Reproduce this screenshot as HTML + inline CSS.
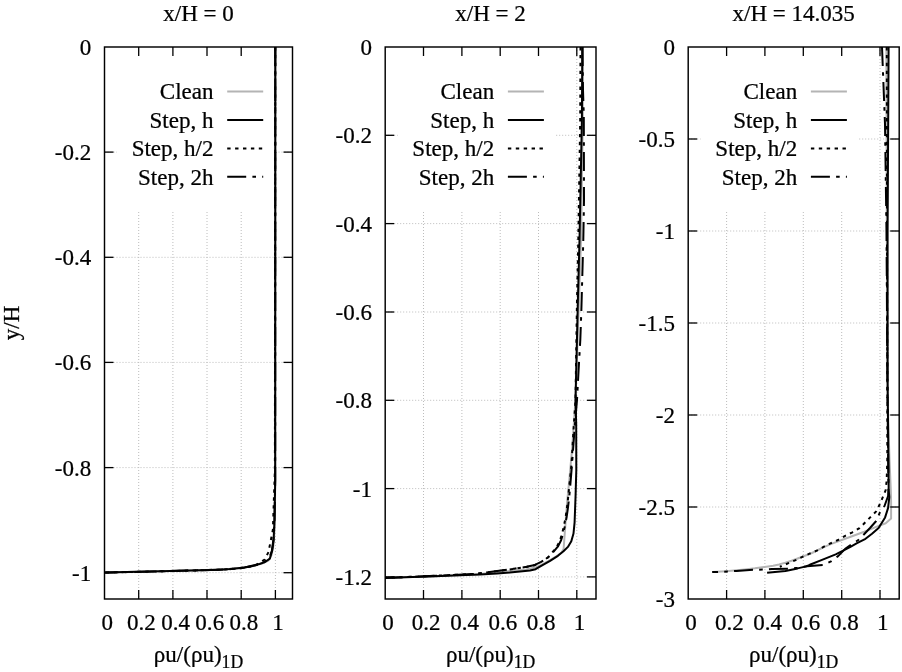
<!DOCTYPE html><html><head><meta charset="utf-8"><style>html,body{margin:0;padding:0;background:#fff;}svg{display:block;}text{font-family:"Liberation Serif",serif;fill:#000;stroke:#000;stroke-width:0.25px;}svg{will-change:transform;}</style></head><body>
<svg width="902" height="672" viewBox="0 0 902 672">
<rect width="902" height="672" fill="#fff"/>
<line x1="138.7" y1="47.0" x2="138.7" y2="599.0" stroke="#bcbcbc" stroke-width="1" stroke-dasharray="1 2"/>
<line x1="172.9" y1="47.0" x2="172.9" y2="599.0" stroke="#bcbcbc" stroke-width="1" stroke-dasharray="1 2"/>
<line x1="207.0" y1="47.0" x2="207.0" y2="599.0" stroke="#bcbcbc" stroke-width="1" stroke-dasharray="1 2"/>
<line x1="241.2" y1="47.0" x2="241.2" y2="599.0" stroke="#bcbcbc" stroke-width="1" stroke-dasharray="1 2"/>
<line x1="275.4" y1="47.0" x2="275.4" y2="599.0" stroke="#bcbcbc" stroke-width="1" stroke-dasharray="1 2"/>
<line x1="104.5" y1="152.1" x2="292.5" y2="152.1" stroke="#bcbcbc" stroke-width="1" stroke-dasharray="1 2"/>
<line x1="104.5" y1="257.3" x2="292.5" y2="257.3" stroke="#bcbcbc" stroke-width="1" stroke-dasharray="1 2"/>
<line x1="104.5" y1="362.4" x2="292.5" y2="362.4" stroke="#bcbcbc" stroke-width="1" stroke-dasharray="1 2"/>
<line x1="104.5" y1="467.6" x2="292.5" y2="467.6" stroke="#bcbcbc" stroke-width="1" stroke-dasharray="1 2"/>
<line x1="104.5" y1="572.7" x2="292.5" y2="572.7" stroke="#bcbcbc" stroke-width="1" stroke-dasharray="1 2"/>
<rect x="117.0" y="47.0" width="158.0" height="164.8" fill="#fff"/>
<polyline points="275.3,47.0 275.2,480.0 274.8,527.0 273.5,545.0 271.5,555.0 268.5,560.5 262.0,563.5 252.0,566.3 240.0,568.2 225.0,569.3 200.0,570.2 160.0,571.3 104.5,572.6" fill="none" stroke="#b4b4b4" stroke-width="2" stroke-linejoin="round"/>
<polyline points="275.3,47.0 275.2,480.0 274.5,520.0 273.4,540.0 271.8,551.0 269.0,558.5 263.0,562.8 255.0,565.5 244.6,567.6 229.8,569.2 200.0,570.3 160.0,571.3 104.5,572.6" fill="none" stroke="#000" stroke-width="2" stroke-dasharray="19 6.2 3.6 6.2" stroke-dashoffset="0.00" stroke-linejoin="round"/>
<polyline points="275.3,47.0 274.9,470.0 273.7,504.5 272.9,529.8 271.4,537.2 268.5,552.1 264.7,559.5 258.0,564.0 252.0,566.5 240.0,568.3 225.0,569.4 200.0,570.3 160.0,571.3 104.5,572.6" fill="none" stroke="#000" stroke-width="2" stroke-dasharray="3.4 4.5" stroke-linejoin="round"/>
<polyline points="275.3,47.0 275.2,480.0 274.5,520.0 273.6,540.0 272.3,550.0 269.9,558.6 265.0,562.0 259.5,564.0 244.6,567.4 229.8,569.1 219.7,569.8 200.0,570.3 160.0,571.3 104.5,572.6" fill="none" stroke="#000" stroke-width="2" stroke-linejoin="round"/>
<line x1="138.7" y1="599.0" x2="138.7" y2="590.0" stroke="#000" stroke-width="1.3"/>
<line x1="138.7" y1="47.0" x2="138.7" y2="56.0" stroke="#000" stroke-width="1.3"/>
<line x1="172.9" y1="599.0" x2="172.9" y2="590.0" stroke="#000" stroke-width="1.3"/>
<line x1="172.9" y1="47.0" x2="172.9" y2="56.0" stroke="#000" stroke-width="1.3"/>
<line x1="207.0" y1="599.0" x2="207.0" y2="590.0" stroke="#000" stroke-width="1.3"/>
<line x1="207.0" y1="47.0" x2="207.0" y2="56.0" stroke="#000" stroke-width="1.3"/>
<line x1="241.2" y1="599.0" x2="241.2" y2="590.0" stroke="#000" stroke-width="1.3"/>
<line x1="241.2" y1="47.0" x2="241.2" y2="56.0" stroke="#000" stroke-width="1.3"/>
<line x1="275.4" y1="599.0" x2="275.4" y2="590.0" stroke="#000" stroke-width="1.3"/>
<line x1="275.4" y1="47.0" x2="275.4" y2="56.0" stroke="#000" stroke-width="1.3"/>
<line x1="104.5" y1="152.1" x2="113.5" y2="152.1" stroke="#000" stroke-width="1.3"/>
<line x1="292.5" y1="152.1" x2="283.5" y2="152.1" stroke="#000" stroke-width="1.3"/>
<line x1="104.5" y1="257.3" x2="113.5" y2="257.3" stroke="#000" stroke-width="1.3"/>
<line x1="292.5" y1="257.3" x2="283.5" y2="257.3" stroke="#000" stroke-width="1.3"/>
<line x1="104.5" y1="362.4" x2="113.5" y2="362.4" stroke="#000" stroke-width="1.3"/>
<line x1="292.5" y1="362.4" x2="283.5" y2="362.4" stroke="#000" stroke-width="1.3"/>
<line x1="104.5" y1="467.6" x2="113.5" y2="467.6" stroke="#000" stroke-width="1.3"/>
<line x1="292.5" y1="467.6" x2="283.5" y2="467.6" stroke="#000" stroke-width="1.3"/>
<line x1="104.5" y1="572.7" x2="113.5" y2="572.7" stroke="#000" stroke-width="1.3"/>
<line x1="292.5" y1="572.7" x2="283.5" y2="572.7" stroke="#000" stroke-width="1.3"/>
<rect x="104.5" y="47.0" width="188.0" height="552.0" fill="none" stroke="#000" stroke-width="1.45"/>
<text transform="translate(91.30,55.00) scale(0.98,1)" font-size="23.5" text-anchor="end" >0</text>
<text transform="translate(91.30,160.14) scale(0.98,1)" font-size="23.5" text-anchor="end" >-0.2</text>
<text transform="translate(91.30,265.29) scale(0.98,1)" font-size="23.5" text-anchor="end" >-0.4</text>
<text transform="translate(91.30,370.43) scale(0.98,1)" font-size="23.5" text-anchor="end" >-0.6</text>
<text transform="translate(91.30,475.57) scale(0.98,1)" font-size="23.5" text-anchor="end" >-0.8</text>
<text transform="translate(91.30,580.71) scale(0.98,1)" font-size="23.5" text-anchor="end" >-1</text>
<text transform="translate(107.20,629.50) scale(0.98,1)" font-size="23.5" text-anchor="middle" >0</text>
<text transform="translate(141.38,629.50) scale(0.98,1)" font-size="23.5" text-anchor="middle" >0.2</text>
<text transform="translate(175.56,629.50) scale(0.98,1)" font-size="23.5" text-anchor="middle" >0.4</text>
<text transform="translate(209.75,629.50) scale(0.98,1)" font-size="23.5" text-anchor="middle" >0.6</text>
<text transform="translate(243.93,629.50) scale(0.98,1)" font-size="23.5" text-anchor="middle" >0.8</text>
<text transform="translate(278.11,629.50) scale(0.98,1)" font-size="23.5" text-anchor="middle" >1</text>
<text transform="translate(198.50,21.30) scale(0.98,1)" font-size="23.5" text-anchor="middle" >x/H = 0</text>
<text transform="translate(198.50,661.50) scale(0.98,1)" font-size="23.5" text-anchor="middle" >ρu/(ρu)<tspan font-size="18" dy="6">1D</tspan></text>
<text transform="translate(213.50,99.30) scale(0.98,1)" font-size="23.5" text-anchor="end" >Clean</text>
<line x1="227.2" y1="91.5" x2="263.2" y2="91.5" stroke="#b4b4b4" stroke-width="2"/>
<text transform="translate(213.50,127.80) scale(0.98,1)" font-size="23.5" text-anchor="end" >Step, h</text>
<line x1="227.2" y1="120.0" x2="263.2" y2="120.0" stroke="#000" stroke-width="2"/>
<text transform="translate(213.50,156.20) scale(0.98,1)" font-size="23.5" text-anchor="end" >Step, h/2</text>
<line x1="227.2" y1="148.4" x2="263.2" y2="148.4" stroke="#000" stroke-width="2" stroke-dasharray="3.4 4.5"/>
<text transform="translate(213.50,184.60) scale(0.98,1)" font-size="23.5" text-anchor="end" >Step, 2h</text>
<line x1="227.2" y1="176.8" x2="263.2" y2="176.8" stroke="#000" stroke-width="2" stroke-dasharray="19 6.2 3.6 6.2"/>
<line x1="423.5" y1="47.0" x2="423.5" y2="599.0" stroke="#bcbcbc" stroke-width="1" stroke-dasharray="1 2"/>
<line x1="461.9" y1="47.0" x2="461.9" y2="599.0" stroke="#bcbcbc" stroke-width="1" stroke-dasharray="1 2"/>
<line x1="500.2" y1="47.0" x2="500.2" y2="599.0" stroke="#bcbcbc" stroke-width="1" stroke-dasharray="1 2"/>
<line x1="538.5" y1="47.0" x2="538.5" y2="599.0" stroke="#bcbcbc" stroke-width="1" stroke-dasharray="1 2"/>
<line x1="576.8" y1="47.0" x2="576.8" y2="599.0" stroke="#bcbcbc" stroke-width="1" stroke-dasharray="1 2"/>
<line x1="385.2" y1="135.3" x2="596.0" y2="135.3" stroke="#bcbcbc" stroke-width="1" stroke-dasharray="1 2"/>
<line x1="385.2" y1="223.6" x2="596.0" y2="223.6" stroke="#bcbcbc" stroke-width="1" stroke-dasharray="1 2"/>
<line x1="385.2" y1="312.0" x2="596.0" y2="312.0" stroke="#bcbcbc" stroke-width="1" stroke-dasharray="1 2"/>
<line x1="385.2" y1="400.3" x2="596.0" y2="400.3" stroke="#bcbcbc" stroke-width="1" stroke-dasharray="1 2"/>
<line x1="385.2" y1="488.6" x2="596.0" y2="488.6" stroke="#bcbcbc" stroke-width="1" stroke-dasharray="1 2"/>
<line x1="385.2" y1="576.9" x2="596.0" y2="576.9" stroke="#bcbcbc" stroke-width="1" stroke-dasharray="1 2"/>
<rect x="397.7" y="47.0" width="158.0" height="164.8" fill="#fff"/>
<polyline points="583.0,47.0 582.8,120.0 581.0,240.0 579.0,300.0 575.5,400.0 572.0,450.0 569.3,480.0 567.3,500.0 566.5,510.0 565.0,530.0 563.6,549.0 561.5,552.5 557.9,555.4 550.1,560.2 541.2,564.8 535.0,567.6 526.0,569.6 514.0,570.6 497.0,572.3 477.6,574.2 453.2,575.4 428.8,576.4 404.4,577.3 385.2,577.9" fill="none" stroke="#b4b4b4" stroke-width="2" stroke-linejoin="round"/>
<polyline points="582.4,47.0 583.0,90.0 583.8,115.0 584.0,200.0 583.3,240.0 581.3,312.0 580.3,340.0 578.6,370.0 577.0,400.0 574.5,430.0 572.0,464.4 570.0,488.8 568.9,500.0 567.8,508.9 566.7,516.7 565.0,525.7 563.4,532.4 561.1,540.2 557.8,546.7 553.2,552.1 548.6,557.0 541.8,561.5 534.9,564.9 526.5,566.8 514.1,568.7 497.1,571.1 477.6,573.6 453.2,574.9 428.8,576.1 404.4,577.1 385.2,577.8" fill="none" stroke="#000" stroke-width="2" stroke-dasharray="19 6.2 3.6 6.2" stroke-dashoffset="0.00" stroke-linejoin="round"/>
<polyline points="580.5,47.0 580.2,120.0 578.3,240.0 577.0,300.0 575.5,400.0 573.5,430.0 571.5,464.4 569.0,488.8 567.9,500.0 566.8,508.9 565.7,516.7 564.0,525.7 562.4,532.4 560.1,540.2 556.8,546.9 552.3,552.5 547.9,557.5 541.2,561.9 534.5,565.3 526.3,566.9 514.1,568.8 497.1,571.2 477.6,573.7 453.2,574.9 428.8,576.1 404.4,577.1 385.2,577.8" fill="none" stroke="#000" stroke-width="2" stroke-dasharray="3.4 4.5" stroke-linejoin="round"/>
<polyline points="582.3,47.0 581.9,120.0 579.5,240.0 577.9,300.0 575.5,400.0 576.2,424.0 576.3,470.0 575.6,495.0 574.6,522.3 573.5,533.5 571.3,541.3 567.9,546.9 563.5,551.3 557.9,555.8 550.1,560.8 541.2,565.8 535.6,569.2 530.0,570.5 520.0,571.5 509.8,572.6 497.0,573.6 480.0,574.5 453.0,575.6 428.8,576.5 404.4,577.3 385.2,577.9" fill="none" stroke="#000" stroke-width="2" stroke-linejoin="round"/>
<line x1="423.5" y1="599.0" x2="423.5" y2="590.0" stroke="#000" stroke-width="1.3"/>
<line x1="423.5" y1="47.0" x2="423.5" y2="56.0" stroke="#000" stroke-width="1.3"/>
<line x1="461.9" y1="599.0" x2="461.9" y2="590.0" stroke="#000" stroke-width="1.3"/>
<line x1="461.9" y1="47.0" x2="461.9" y2="56.0" stroke="#000" stroke-width="1.3"/>
<line x1="500.2" y1="599.0" x2="500.2" y2="590.0" stroke="#000" stroke-width="1.3"/>
<line x1="500.2" y1="47.0" x2="500.2" y2="56.0" stroke="#000" stroke-width="1.3"/>
<line x1="538.5" y1="599.0" x2="538.5" y2="590.0" stroke="#000" stroke-width="1.3"/>
<line x1="538.5" y1="47.0" x2="538.5" y2="56.0" stroke="#000" stroke-width="1.3"/>
<line x1="576.8" y1="599.0" x2="576.8" y2="590.0" stroke="#000" stroke-width="1.3"/>
<line x1="576.8" y1="47.0" x2="576.8" y2="56.0" stroke="#000" stroke-width="1.3"/>
<line x1="385.2" y1="135.3" x2="394.2" y2="135.3" stroke="#000" stroke-width="1.3"/>
<line x1="596.0" y1="135.3" x2="587.0" y2="135.3" stroke="#000" stroke-width="1.3"/>
<line x1="385.2" y1="223.6" x2="394.2" y2="223.6" stroke="#000" stroke-width="1.3"/>
<line x1="596.0" y1="223.6" x2="587.0" y2="223.6" stroke="#000" stroke-width="1.3"/>
<line x1="385.2" y1="312.0" x2="394.2" y2="312.0" stroke="#000" stroke-width="1.3"/>
<line x1="596.0" y1="312.0" x2="587.0" y2="312.0" stroke="#000" stroke-width="1.3"/>
<line x1="385.2" y1="400.3" x2="394.2" y2="400.3" stroke="#000" stroke-width="1.3"/>
<line x1="596.0" y1="400.3" x2="587.0" y2="400.3" stroke="#000" stroke-width="1.3"/>
<line x1="385.2" y1="488.6" x2="394.2" y2="488.6" stroke="#000" stroke-width="1.3"/>
<line x1="596.0" y1="488.6" x2="587.0" y2="488.6" stroke="#000" stroke-width="1.3"/>
<line x1="385.2" y1="576.9" x2="394.2" y2="576.9" stroke="#000" stroke-width="1.3"/>
<line x1="596.0" y1="576.9" x2="587.0" y2="576.9" stroke="#000" stroke-width="1.3"/>
<rect x="385.2" y="47.0" width="210.8" height="552.0" fill="none" stroke="#000" stroke-width="1.45"/>
<text transform="translate(372.00,55.00) scale(0.98,1)" font-size="23.5" text-anchor="end" >0</text>
<text transform="translate(372.00,143.32) scale(0.98,1)" font-size="23.5" text-anchor="end" >-0.2</text>
<text transform="translate(372.00,231.64) scale(0.98,1)" font-size="23.5" text-anchor="end" >-0.4</text>
<text transform="translate(372.00,319.96) scale(0.98,1)" font-size="23.5" text-anchor="end" >-0.6</text>
<text transform="translate(372.00,408.28) scale(0.98,1)" font-size="23.5" text-anchor="end" >-0.8</text>
<text transform="translate(372.00,496.60) scale(0.98,1)" font-size="23.5" text-anchor="end" >-1</text>
<text transform="translate(372.00,584.92) scale(0.98,1)" font-size="23.5" text-anchor="end" >-1.2</text>
<text transform="translate(387.90,629.50) scale(0.98,1)" font-size="23.5" text-anchor="middle" >0</text>
<text transform="translate(426.23,629.50) scale(0.98,1)" font-size="23.5" text-anchor="middle" >0.2</text>
<text transform="translate(464.55,629.50) scale(0.98,1)" font-size="23.5" text-anchor="middle" >0.4</text>
<text transform="translate(502.88,629.50) scale(0.98,1)" font-size="23.5" text-anchor="middle" >0.6</text>
<text transform="translate(541.21,629.50) scale(0.98,1)" font-size="23.5" text-anchor="middle" >0.8</text>
<text transform="translate(579.54,629.50) scale(0.98,1)" font-size="23.5" text-anchor="middle" >1</text>
<text transform="translate(490.60,21.30) scale(0.98,1)" font-size="23.5" text-anchor="middle" >x/H = 2</text>
<text transform="translate(490.60,661.50) scale(0.98,1)" font-size="23.5" text-anchor="middle" >ρu/(ρu)<tspan font-size="18" dy="6">1D</tspan></text>
<text transform="translate(494.20,99.30) scale(0.98,1)" font-size="23.5" text-anchor="end" >Clean</text>
<line x1="507.9" y1="91.5" x2="543.9" y2="91.5" stroke="#b4b4b4" stroke-width="2"/>
<text transform="translate(494.20,127.80) scale(0.98,1)" font-size="23.5" text-anchor="end" >Step, h</text>
<line x1="507.9" y1="120.0" x2="543.9" y2="120.0" stroke="#000" stroke-width="2"/>
<text transform="translate(494.20,156.20) scale(0.98,1)" font-size="23.5" text-anchor="end" >Step, h/2</text>
<line x1="507.9" y1="148.4" x2="543.9" y2="148.4" stroke="#000" stroke-width="2" stroke-dasharray="3.4 4.5"/>
<text transform="translate(494.20,184.60) scale(0.98,1)" font-size="23.5" text-anchor="end" >Step, 2h</text>
<line x1="507.9" y1="176.8" x2="543.9" y2="176.8" stroke="#000" stroke-width="2" stroke-dasharray="19 6.2 3.6 6.2"/>
<line x1="726.6" y1="47.0" x2="726.6" y2="599.0" stroke="#bcbcbc" stroke-width="1" stroke-dasharray="1 2"/>
<line x1="764.9" y1="47.0" x2="764.9" y2="599.0" stroke="#bcbcbc" stroke-width="1" stroke-dasharray="1 2"/>
<line x1="803.3" y1="47.0" x2="803.3" y2="599.0" stroke="#bcbcbc" stroke-width="1" stroke-dasharray="1 2"/>
<line x1="841.7" y1="47.0" x2="841.7" y2="599.0" stroke="#bcbcbc" stroke-width="1" stroke-dasharray="1 2"/>
<line x1="880.0" y1="47.0" x2="880.0" y2="599.0" stroke="#bcbcbc" stroke-width="1" stroke-dasharray="1 2"/>
<line x1="688.2" y1="139.0" x2="899.2" y2="139.0" stroke="#bcbcbc" stroke-width="1" stroke-dasharray="1 2"/>
<line x1="688.2" y1="231.0" x2="899.2" y2="231.0" stroke="#bcbcbc" stroke-width="1" stroke-dasharray="1 2"/>
<line x1="688.2" y1="323.0" x2="899.2" y2="323.0" stroke="#bcbcbc" stroke-width="1" stroke-dasharray="1 2"/>
<line x1="688.2" y1="415.0" x2="899.2" y2="415.0" stroke="#bcbcbc" stroke-width="1" stroke-dasharray="1 2"/>
<line x1="688.2" y1="507.0" x2="899.2" y2="507.0" stroke="#bcbcbc" stroke-width="1" stroke-dasharray="1 2"/>
<rect x="700.7" y="47.0" width="158.0" height="164.8" fill="#fff"/>
<polyline points="886.4,47.0 886.8,231.0 887.6,400.0 889.5,460.0 890.8,490.0 891.1,501.9 891.1,518.6 885.7,523.3 876.2,526.9 864.3,531.7 852.0,536.3 841.7,540.0 832.0,543.6 823.8,547.1 811.9,553.0 803.7,556.2 797.0,558.8 791.5,560.8 785.4,562.8 779.0,564.4 773.2,565.7 764.6,567.0 754.9,568.3 745.0,569.4 736.6,570.3 726.0,571.2 712.2,572.1" fill="none" stroke="#b4b4b4" stroke-width="2" stroke-linejoin="round"/>
<polyline points="882.0,47.0 885.0,124.0 886.5,231.0 887.5,400.0" fill="none" stroke="#000" stroke-width="2" stroke-dasharray="19 6.2 3.6 6.2" stroke-dashoffset="0.00" stroke-linejoin="round"/>
<polyline points="887.5,400.0 888.3,470.0 888.5,487.0 888.1,496.0 884.5,506.0 879.8,512.6 876.2,521.0 870.0,528.0 864.3,534.0 858.3,540.0 851.0,544.8 845.2,548.9 838.1,556.1 831.0,561.4 823.8,564.8 807.1,566.2 797.6,567.8 789.0,568.8 772.0,568.9 762.8,569.6 754.9,569.7 736.6,570.9 728.0,571.5 712.2,572.1" fill="none" stroke="#000" stroke-width="2" stroke-dasharray="19 6.2 3.6 6.2" stroke-dashoffset="16.12" stroke-linejoin="round"/>
<polyline points="886.8,47.0 887.0,231.0 887.4,400.0 887.3,460.0 886.7,480.0 885.7,490.0 883.3,496.0 879.8,504.3 876.2,511.4 870.2,517.4 859.5,528.1 852.4,532.3 845.2,535.8 838.1,540.0 827.4,544.8 816.7,550.7 809.5,553.7 803.7,556.2 796.3,559.9 789.0,562.9 781.7,566.0 779.8,566.7" fill="none" stroke="#000" stroke-width="2" stroke-dasharray="3.4 4.5" stroke-linejoin="round"/>
<polyline points="888.6,47.0 887.6,231.0 887.6,380.0 888.3,450.0 888.7,490.0 889.3,497.1 888.1,507.9 885.1,517.4 878.6,528.1 872.0,533.8 865.5,538.8 857.0,543.2 850.0,547.1 835.7,554.3 821.4,560.2 809.8,564.8 806.1,566.4 797.6,568.4 785.4,570.9 767.1,572.7" fill="none" stroke="#000" stroke-width="2" stroke-linejoin="round"/>
<line x1="726.6" y1="599.0" x2="726.6" y2="590.0" stroke="#000" stroke-width="1.3"/>
<line x1="726.6" y1="47.0" x2="726.6" y2="56.0" stroke="#000" stroke-width="1.3"/>
<line x1="764.9" y1="599.0" x2="764.9" y2="590.0" stroke="#000" stroke-width="1.3"/>
<line x1="764.9" y1="47.0" x2="764.9" y2="56.0" stroke="#000" stroke-width="1.3"/>
<line x1="803.3" y1="599.0" x2="803.3" y2="590.0" stroke="#000" stroke-width="1.3"/>
<line x1="803.3" y1="47.0" x2="803.3" y2="56.0" stroke="#000" stroke-width="1.3"/>
<line x1="841.7" y1="599.0" x2="841.7" y2="590.0" stroke="#000" stroke-width="1.3"/>
<line x1="841.7" y1="47.0" x2="841.7" y2="56.0" stroke="#000" stroke-width="1.3"/>
<line x1="880.0" y1="599.0" x2="880.0" y2="590.0" stroke="#000" stroke-width="1.3"/>
<line x1="880.0" y1="47.0" x2="880.0" y2="56.0" stroke="#000" stroke-width="1.3"/>
<line x1="688.2" y1="139.0" x2="697.2" y2="139.0" stroke="#000" stroke-width="1.3"/>
<line x1="899.2" y1="139.0" x2="890.2" y2="139.0" stroke="#000" stroke-width="1.3"/>
<line x1="688.2" y1="231.0" x2="697.2" y2="231.0" stroke="#000" stroke-width="1.3"/>
<line x1="899.2" y1="231.0" x2="890.2" y2="231.0" stroke="#000" stroke-width="1.3"/>
<line x1="688.2" y1="323.0" x2="697.2" y2="323.0" stroke="#000" stroke-width="1.3"/>
<line x1="899.2" y1="323.0" x2="890.2" y2="323.0" stroke="#000" stroke-width="1.3"/>
<line x1="688.2" y1="415.0" x2="697.2" y2="415.0" stroke="#000" stroke-width="1.3"/>
<line x1="899.2" y1="415.0" x2="890.2" y2="415.0" stroke="#000" stroke-width="1.3"/>
<line x1="688.2" y1="507.0" x2="697.2" y2="507.0" stroke="#000" stroke-width="1.3"/>
<line x1="899.2" y1="507.0" x2="890.2" y2="507.0" stroke="#000" stroke-width="1.3"/>
<rect x="688.2" y="47.0" width="211.0" height="552.0" fill="none" stroke="#000" stroke-width="1.45"/>
<text transform="translate(675.00,55.00) scale(0.98,1)" font-size="23.5" text-anchor="end" >0</text>
<text transform="translate(675.00,147.00) scale(0.98,1)" font-size="23.5" text-anchor="end" >-0.5</text>
<text transform="translate(675.00,239.00) scale(0.98,1)" font-size="23.5" text-anchor="end" >-1</text>
<text transform="translate(675.00,331.00) scale(0.98,1)" font-size="23.5" text-anchor="end" >-1.5</text>
<text transform="translate(675.00,423.00) scale(0.98,1)" font-size="23.5" text-anchor="end" >-2</text>
<text transform="translate(675.00,515.00) scale(0.98,1)" font-size="23.5" text-anchor="end" >-2.5</text>
<text transform="translate(675.00,607.00) scale(0.98,1)" font-size="23.5" text-anchor="end" >-3</text>
<text transform="translate(690.90,629.50) scale(0.98,1)" font-size="23.5" text-anchor="middle" >0</text>
<text transform="translate(729.26,629.50) scale(0.98,1)" font-size="23.5" text-anchor="middle" >0.2</text>
<text transform="translate(767.63,629.50) scale(0.98,1)" font-size="23.5" text-anchor="middle" >0.4</text>
<text transform="translate(805.99,629.50) scale(0.98,1)" font-size="23.5" text-anchor="middle" >0.6</text>
<text transform="translate(844.35,629.50) scale(0.98,1)" font-size="23.5" text-anchor="middle" >0.8</text>
<text transform="translate(882.72,629.50) scale(0.98,1)" font-size="23.5" text-anchor="middle" >1</text>
<text transform="translate(793.70,21.30) scale(0.98,1)" font-size="23.5" text-anchor="middle" >x/H = 14.035</text>
<text transform="translate(793.70,661.50) scale(0.98,1)" font-size="23.5" text-anchor="middle" >ρu/(ρu)<tspan font-size="18" dy="6">1D</tspan></text>
<text transform="translate(797.20,99.30) scale(0.98,1)" font-size="23.5" text-anchor="end" >Clean</text>
<line x1="810.9" y1="91.5" x2="846.9" y2="91.5" stroke="#b4b4b4" stroke-width="2"/>
<text transform="translate(797.20,127.80) scale(0.98,1)" font-size="23.5" text-anchor="end" >Step, h</text>
<line x1="810.9" y1="120.0" x2="846.9" y2="120.0" stroke="#000" stroke-width="2"/>
<text transform="translate(797.20,156.20) scale(0.98,1)" font-size="23.5" text-anchor="end" >Step, h/2</text>
<line x1="810.9" y1="148.4" x2="846.9" y2="148.4" stroke="#000" stroke-width="2" stroke-dasharray="3.4 4.5"/>
<text transform="translate(797.20,184.60) scale(0.98,1)" font-size="23.5" text-anchor="end" >Step, 2h</text>
<line x1="810.9" y1="176.8" x2="846.9" y2="176.8" stroke="#000" stroke-width="2" stroke-dasharray="19 6.2 3.6 6.2"/>
<text transform="translate(19,323) rotate(-90) scale(0.98,1)" font-size="23.5" text-anchor="middle">y/H</text>
</svg></body></html>
